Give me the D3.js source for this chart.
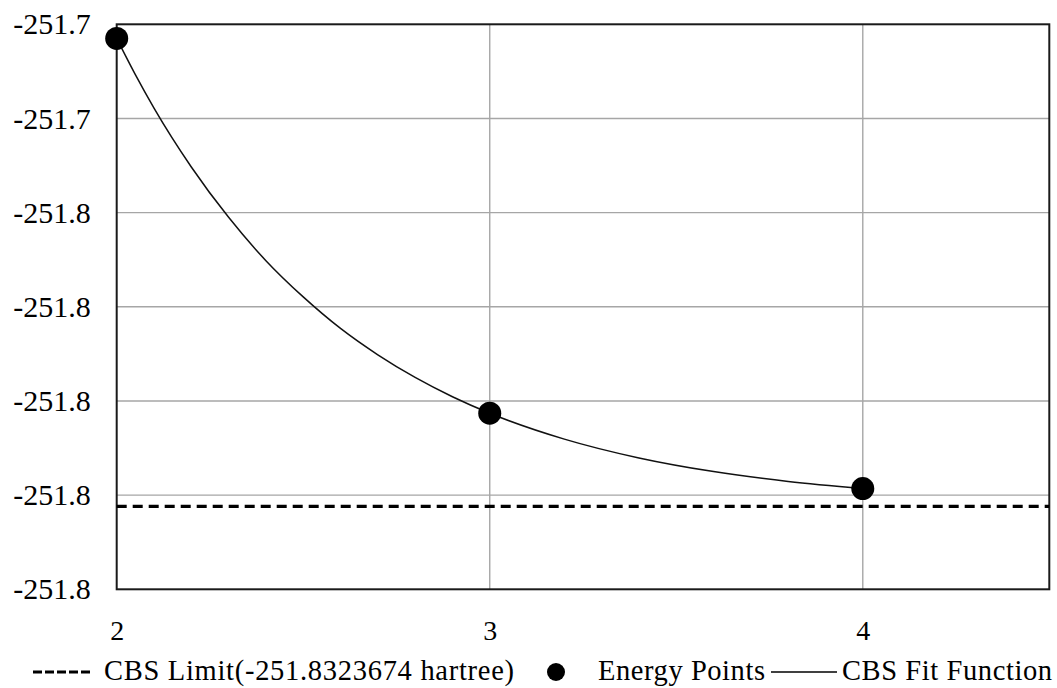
<!DOCTYPE html>
<html>
<head>
<meta charset="utf-8">
<script src="https://cdn.jsdelivr.net/npm/d3@7"></script>
<style>
  body { margin: 0; background: #fff; }
</style>
</head>
<body>
<script>
// the energy points (basis set cardinal number n, energy in hartree)
const energyN = [2, 3, 4];
const energyE = [-251.733, -251.8126, -251.8286];

// points
const fitN = [2, 2.05, 2.1, 2.2, 2.3, 2.4, 2.5, 2.6, 2.7, 2.8, 2.9, 3, 3.2, 3.4, 3.6, 3.8, 4];
const fitE = [-251.733, -251.7407, -251.7478, -251.7603, -251.771, -251.7802, -251.7879, -251.7946,
  -251.8002, -251.805, -251.8091, -251.8126, -251.8181, -251.8221, -251.825, -251.8271, -251.8286];

// the cbs limit
const cbsLimit = -251.8323674;

// axis ticks
const xTicks = [2, 3, 4];
const yTicks = [-251.73, -251.75, -251.77, -251.79, -251.81, -251.83, -251.85];
const yTickLabels = ["-251.7", "-251.7", "-251.8", "-251.8", "-251.8", "-251.8", "-251.8"];

// legend labels
const legendLabels = ["CBS Limit(-251.8323674 hartree)", "Energy Points", "CBS Fit Function"];

//size of the page
const width = 1057;
const height = 688;
const font = "Liberation Serif";

// plot area
const plotLeft = 116.7;
const plotRight = 1049.3;
const plotTop = 24.3;
const plotBottom = 589.3;

let x = d3.scaleLinear().domain([2, 4.5]).range([plotLeft, plotRight]);
let y = d3.scaleLinear().domain([-251.85, -251.73]).range([plotBottom, plotTop]);

// sets up canvas
let c = d3.select("body").append("svg")
  .attr("width", width)
  .attr("height", height);

// horizontal grid lines
c.append("g")
  .selectAll("line")
  .data(yTicks.slice(1, -1))
  .join("line")
  .attr("x1", plotLeft)
  .attr("x2", plotRight)
  .attr("y1", d => y(d))
  .attr("y2", d => y(d))
  .attr("stroke", "#a6a6a6")
  .attr("stroke-width", 1.4);

// vertical grid lines
c.append("g")
  .selectAll("line")
  .data(xTicks.slice(1))
  .join("line")
  .attr("x1", d => x(d))
  .attr("x2", d => x(d))
  .attr("y1", plotTop)
  .attr("y2", plotBottom)
  .attr("stroke", "#a6a6a6")
  .attr("stroke-width", 1.4);

// the plot border
c.append("rect")
  .attr("x", plotLeft)
  .attr("y", plotTop)
  .attr("width", plotRight - plotLeft)
  .attr("height", plotBottom - plotTop)
  .attr("fill", "none")
  .attr("stroke", "#1a1a1a")
  .attr("stroke-width", 2);

// y axis labels
let yAxis = d3.axisLeft(y)
  .tickValues(yTicks)
  .tickFormat((d, i) => yTickLabels[i])
  .tickSize(0)
  .tickPadding(26);

c.append("g")
  .attr("transform", "translate(" + plotLeft + ",0)")
  .attr("font-family", font)
  .attr("font-size", 30)
  .call(yAxis)
  .call(g => g.select(".domain").remove())
  .selectAll("text")
  .attr("font-family", font)
  .attr("font-size", 30)
  .attr("fill", "#000");

// x axis labels
let xAxis = d3.axisBottom(x)
  .tickValues(xTicks)
  .tickFormat(d3.format("d"))
  .tickSize(0)
  .tickPadding(31);

c.append("g")
  .attr("transform", "translate(0," + plotBottom + ")")
  .call(xAxis)
  .call(g => g.select(".domain").remove())
  .selectAll("text")
  .attr("font-family", font)
  .attr("font-size", 28)
  .attr("fill", "#000");

// the cbs limit line
c.append("line")
  .attr("x1", x(2))
  .attr("x2", plotRight)
  .attr("y1", y(cbsLimit))
  .attr("y2", y(cbsLimit))
  .attr("stroke", "#000")
  .attr("stroke-width", 3.2)
  .attr("stroke-dasharray", "10,6");

// the fit curve
let fitLine = d3.line()
  .x((d, i) => x(fitN[i]))
  .y(d => y(d))
  .curve(d3.curveMonotoneX);

c.append("path")
  .attr("d", fitLine(fitE))
  .attr("fill", "none")
  .attr("stroke", "#111")
  .attr("stroke-width", 1.5);

// the energy points
c.append("g")
  .selectAll("circle")
  .data(energyE)
  .join("circle")
  .attr("cx", (d, i) => x(energyN[i]))
  .attr("cy", d => y(d))
  .attr("r", 11.5)
  .attr("fill", "#000");

// this is the legend
let legendY = 672;
let legendBase = 680;
let lg = c.append("g")
  .attr("font-family", font)
  .attr("font-size", 28.5)
  .attr("fill", "#000");

lg.append("line")
  .attr("x1", 33)
  .attr("x2", 93)
  .attr("y1", legendY)
  .attr("y2", legendY)
  .attr("stroke", "#000")
  .attr("stroke-width", 3.2)
  .attr("stroke-dasharray", "9,3");

lg.append("text")
  .attr("x", 104)
  .attr("y", legendBase)
  .attr("textLength", 410)
  .text(legendLabels[0]);

lg.append("circle")
  .attr("cx", 556)
  .attr("cy", legendY)
  .attr("r", 9)
  .attr("fill", "#000");

lg.append("text")
  .attr("x", 598)
  .attr("y", legendBase)
  .attr("textLength", 167)
  .text(legendLabels[1]);

lg.append("line")
  .attr("x1", 771)
  .attr("x2", 837)
  .attr("y1", legendY)
  .attr("y2", legendY)
  .attr("stroke", "#000")
  .attr("stroke-width", 1.5);

lg.append("text")
  .attr("x", 842)
  .attr("y", legendBase)
  .attr("textLength", 210)
  .text(legendLabels[2]);
</script>
</body>
</html>
